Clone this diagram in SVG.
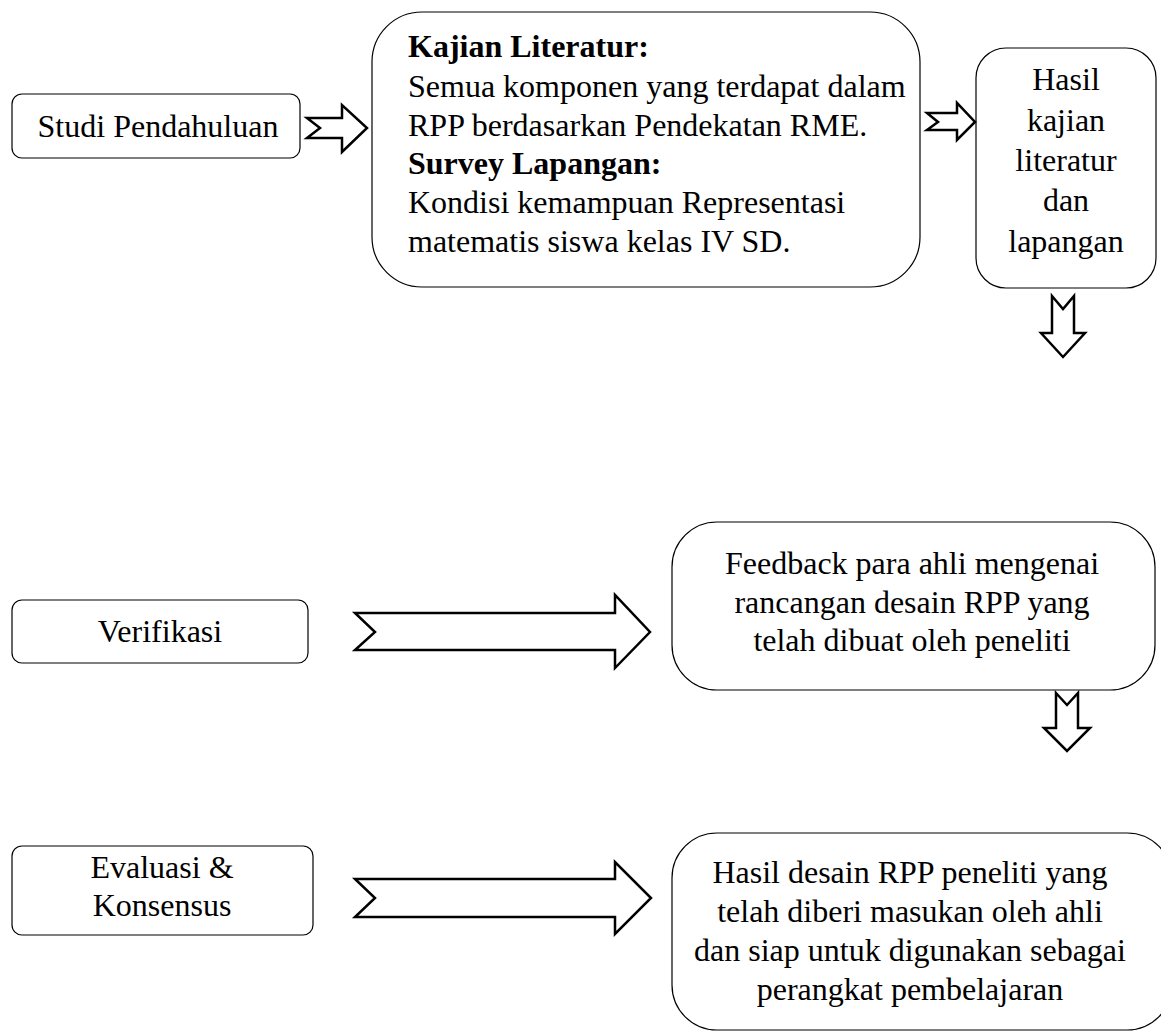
<svg xmlns="http://www.w3.org/2000/svg" width="1161" height="1036" viewBox="0 0 1161 1036">
<style>
.box{fill:#fff;stroke:#000;stroke-width:1.2}
.arr{fill:#fff;stroke:#000;stroke-width:2.5;stroke-linejoin:miter}
text{font-family:"Liberation Serif","Times New Roman",serif;font-size:32px;fill:#000}
.c{text-anchor:middle}
.b{font-weight:bold}
</style>
<rect width="1161" height="1036" fill="#fff"/>
<g id="studi">
<rect class="box" x="12" y="94" width="288" height="64" rx="10"/>
<text class="c" x="158" y="137">Studi Pendahuluan</text>
</g>
<g id="kajian">
<rect class="box" x="372" y="12" width="548" height="275" rx="50"/>
<text x="408" y="57" class="b">Kajian Literatur:</text>
<text x="408" y="97">Semua komponen yang terdapat dalam</text>
<text x="408" y="136">RPP berdasarkan Pendekatan RME.</text>
<text x="408" y="174" class="b">Survey Lapangan:</text>
<text x="408" y="213">Kondisi kemampuan Representasi</text>
<text x="408" y="252">matematis siswa kelas IV SD.</text>
</g>
<g id="hasil">
<rect class="box" x="976" y="48" width="180" height="240" rx="30"/>
<text class="c" x="1066" y="90">Hasil</text>
<text class="c" x="1066" y="131">kajian</text>
<text class="c" x="1066" y="171">literatur</text>
<text class="c" x="1066" y="211">dan</text>
<text class="c" x="1066" y="252">lapangan</text>
</g>
<g id="verifikasi">
<rect class="box" x="12" y="600" width="296" height="63" rx="10"/>
<text class="c" x="160" y="642">Verifikasi</text>
</g>
<g id="feedback">
<rect class="box" x="672" y="522" width="483" height="168" rx="45"/>
<text class="c" x="912" y="574">Feedback para ahli mengenai</text>
<text class="c" x="912" y="613">rancangan desain RPP yang</text>
<text class="c" x="912" y="651">telah dibuat oleh peneliti</text>
</g>
<g id="evaluasi">
<rect class="box" x="12" y="846" width="301" height="89" rx="10"/>
<text class="c" x="162" y="878">Evaluasi &amp;</text>
<text class="c" x="162" y="916">Konsensus</text>
</g>
<g id="hasildesain">
<rect class="box" x="672" y="833" width="500" height="197" rx="45"/>
<text class="c" x="910" y="883">Hasil desain RPP peneliti yang</text>
<text class="c" x="910" y="922">telah diberi masukan oleh ahli</text>
<text class="c" x="910" y="961">dan siap untuk digunakan sebagai</text>
<text class="c" x="910" y="1000">perangkat pembelajaran</text>
</g>
<g id="connectors">
<polygon class="arr" points="307,118 342,118 342,105 367,128 342,152 342,138 307,138 320,128"/>
<polygon class="arr" points="927,113 957,113 957,103 975,122 957,140 957,130 927,130 938,122"/>
<polygon class="arr" points="1052,296 1063,309 1074,296 1074,333 1085,333 1063,357 1041,333 1052,333 1052,296"/>
<polygon class="arr" points="355,613 615,613 615,595 650,632 615,668 615,650 355,650 375,632"/>
<polygon class="arr" points="355,879 615,879 615,862 651,898 615,934 615,917 355,917 375,898"/>
<polygon class="arr" points="1056,693 1067,705 1078,693 1078,728 1090,728 1067,751 1044,728 1056,728 1056,693"/>
</g>
</svg>
